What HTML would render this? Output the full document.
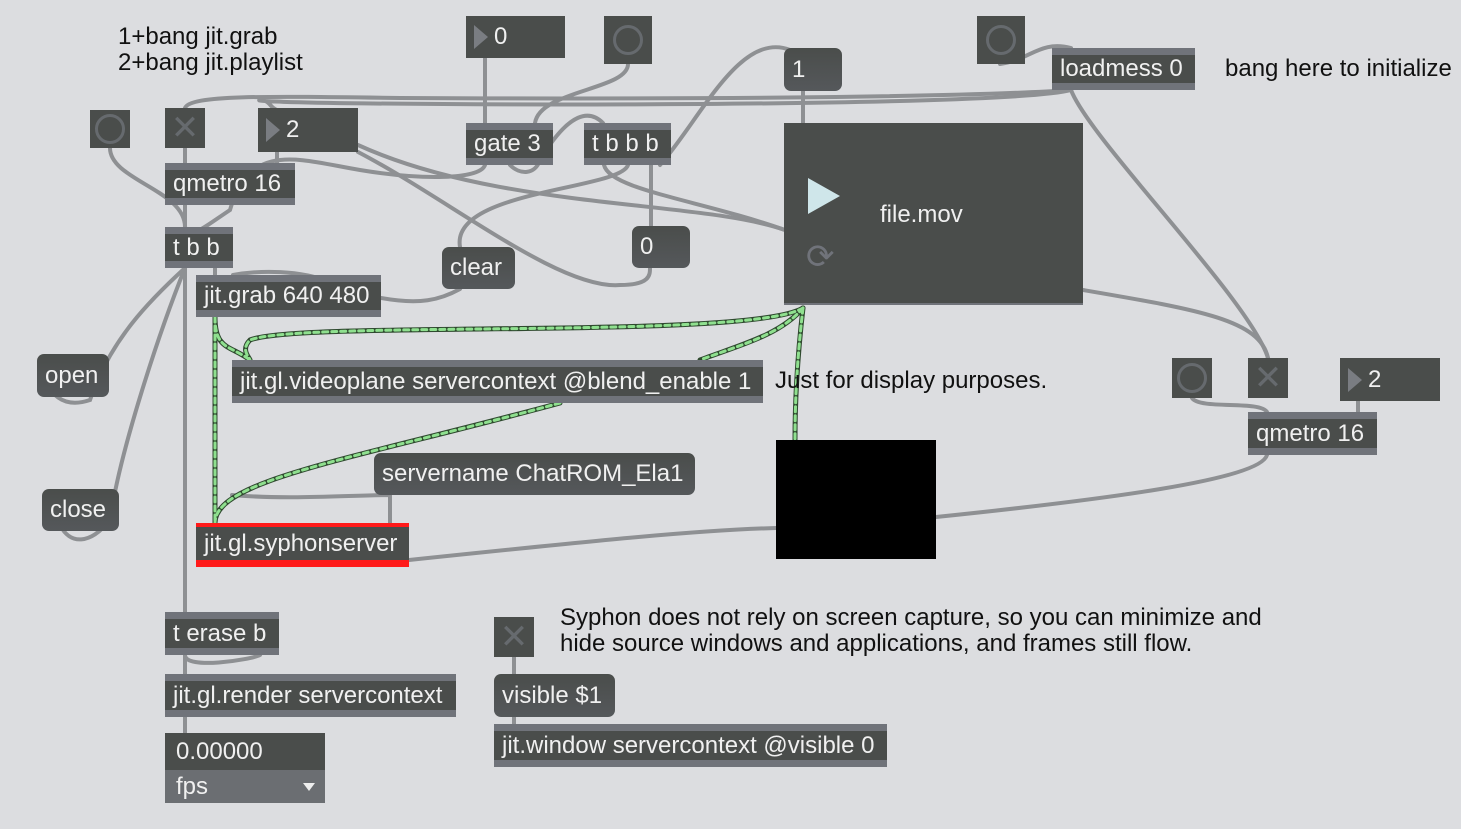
<!DOCTYPE html>
<html><head><style>
body{margin:0;width:1461px;height:829px;background:#dcdde0;position:relative;overflow:hidden;font-family:"Liberation Sans",Arial,sans-serif;}
.o{position:absolute;background:#4a4d4b;color:#f0f0f0;font-size:24px;box-sizing:border-box;}
.o .t{position:absolute;left:8px;top:50%;transform:translateY(-50%);white-space:nowrap;}
.ob{border-top:7px solid #70737a;border-bottom:7px solid #70737a;}
.m{border-radius:7px;background:linear-gradient(#4a4d4b,#55585b);}
.c{position:absolute;font-size:24px;color:#111;line-height:26px;white-space:nowrap;}
.bang::after{content:"";position:absolute;left:50%;top:50%;width:24px;height:24px;margin:-15px 0 0 -15px;border:3px solid #666a6e;border-radius:50%;}
.tog{font-size:34px;color:#666a6e;text-align:center;line-height:40px;}
.num .tri{position:absolute;left:8px;top:50%;margin-top:-12px;border-left:14px solid #7a7d82;border-top:12px solid transparent;border-bottom:12px solid transparent;}
.num .t{left:28px}
svg{position:absolute;left:0;top:0}
</style></head><body>
<svg width="1461" height="829" fill="none" stroke-linecap="round">
<g stroke="#8e9093" stroke-width="4">
<path d="M110 148 C110 180 185 190 185 227"/>
<path d="M185 148 V163"/><path d="M277 152 V163"/><path d="M185 205 V227"/>
<path d="M185 268 V612"/><path d="M215 268 V275"/>
<path d="M185 268 C150 300 110 340 90 400 C60 410 50 390 45 380"/>
<path d="M185 268 C160 330 120 450 110 520 C90 545 70 545 60 525"/>
<path d="M1071 90 C1000 95 800 100 400 98 C260 96 190 95 185 108"/>
<path d="M1071 90 C1000 110 230 105 260 100 C270 100 270 108 277 110"/>
<path d="M1071 90 C1090 140 1250 300 1268 358"/>
<path d="M1083 290 C1200 310 1260 320 1268 358"/>
<path d="M1000 64 C1030 60 1040 40 1071 48"/>
<path d="M358 145 C500 210 700 200 785 230"/>
<path d="M358 152 C450 200 560 290 620 285 C650 285 650 275 650 268"/>
<path d="M485 58 V123"/><path d="M628 64 C628 90 540 90 535 123"/>
<path d="M485 165 C480 180 420 180 360 170 C300 160 250 140 230 210 C200 230 190 240 185 227"/>
<path d="M510 165 C520 175 535 175 540 160 C570 110 590 110 603 123"/>
<path d="M628 165 C620 190 450 190 460 247"/>
<path d="M651 165 V226"/>
<path d="M604 165 C610 190 700 200 785 230"/>
<path d="M660 165 C700 120 740 30 790 50"/>
<path d="M803 91 V123"/>
<path d="M381 298 C420 305 440 300 460 289"/>
<path d="M233 275 C260 270 300 270 330 282"/>
<path d="M409 560 C600 540 700 530 776 528"/>
<path d="M936 517 C1100 500 1260 480 1267 455"/>
<path d="M1192 398 C1200 410 1260 400 1267 412"/>
<path d="M1358 401 V412"/>
<path d="M185 655 C185 670 250 660 260 655"/><path d="M185 655 V674"/>
<path d="M185 717 V733"/>
<path d="M514 657 V674"/><path d="M514 717 V724"/>
<path d="M232 495 C290 500 350 495 390 495 L390 523"/>
</g>
<g stroke="#2f4a2f" stroke-width="5">
<path d="M803 308 C750 340 300 320 250 340 C240 350 250 358 250 360"/>
<path d="M803 308 C780 335 740 345 700 360"/>
<path d="M560 403 C350 460 215 480 215 523"/>
<path d="M803 308 C797 360 795 400 795 440"/>
<path d="M215 317 C215 350 230 345 250 360"/>
<path d="M215 317 V523"/>
</g>
<g stroke="#8fe08f" stroke-width="3" stroke-dasharray="5 4">
<path d="M803 308 C750 340 300 320 250 340 C240 350 250 358 250 360"/>
<path d="M803 308 C780 335 740 345 700 360"/>
<path d="M560 403 C350 460 215 480 215 523"/>
<path d="M803 308 C797 360 795 400 795 440"/>
<path d="M215 317 C215 350 230 345 250 360"/>
<path d="M215 317 V523"/>
</g>
</svg>

<div class="c" style="left:118px;top:24px">1+bang jit.grab<br>2+bang jit.playlist</div>
<div class="c" style="left:1225px;top:56px">bang here to initialize</div>
<div class="c" style="left:775px;top:368px">Just for display purposes.</div>
<div class="c" style="left:560px;top:605px">Syphon does not rely on screen capture, so you can minimize and<br>hide source windows and applications, and frames still flow.</div>

<div class="o bang" style="left:90px;top:110px;width:40px;height:38px"></div>
<div class="o tog" style="left:165px;top:108px;width:40px;height:40px">✕</div>
<div class="o num" style="left:258px;top:108px;width:100px;height:44px"><span class="tri"></span><span class="t">2</span></div>
<div class="o ob" style="left:165px;top:163px;width:130px;height:42px"><span class="t">qmetro 16</span></div>
<div class="o ob" style="left:165px;top:227px;width:68px;height:41px"><span class="t">t b b</span></div>
<div class="o ob" style="left:196px;top:275px;width:185px;height:42px"><span class="t">jit.grab 640 480</span></div>

<div class="o num" style="left:466px;top:16px;width:99px;height:42px"><span class="tri"></span><span class="t">0</span></div>
<div class="o bang" style="left:604px;top:16px;width:48px;height:48px"></div>
<div class="o ob" style="left:466px;top:123px;width:87px;height:42px"><span class="t">gate 3</span></div>
<div class="o ob" style="left:584px;top:123px;width:87px;height:42px"><span class="t">t b b b</span></div>
<div class="o m" style="left:784px;top:48px;width:58px;height:43px"><span class="t">1</span></div>
<div class="o bang" style="left:977px;top:16px;width:48px;height:48px"></div>
<div class="o ob" style="left:1052px;top:48px;width:143px;height:42px"><span class="t">loadmess 0</span></div>
<div class="o m" style="left:442px;top:247px;width:73px;height:42px"><span class="t">clear</span></div>
<div class="o m" style="left:632px;top:226px;width:58px;height:42px"><span class="t">0</span></div>

<div class="o" style="left:784px;top:123px;width:299px;height:182px;border-bottom:2px solid #70737a">
 <div style="position:absolute;left:24px;top:55px;border-left:32px solid #cfe6ea;border-top:18px solid transparent;border-bottom:18px solid transparent"></div>
 <div style="position:absolute;left:96px;top:78px;font-size:24px">file.mov</div>
 <div style="position:absolute;left:22px;top:114px;font-size:34px;color:#70737a">⟳</div>
</div>

<div class="o m" style="left:37px;top:354px;width:72px;height:43px"><span class="t">open</span></div>
<div class="o m" style="left:42px;top:489px;width:77px;height:42px"><span class="t">close</span></div>
<div class="o ob" style="left:232px;top:360px;width:531px;height:43px"><span class="t">jit.gl.videoplane servercontext @blend_enable 1</span></div>
<div style="position:absolute;left:776px;top:440px;width:160px;height:119px;background:#000"></div>
<div class="o m" style="left:374px;top:453px;width:321px;height:42px"><span class="t">servername ChatROM_Ela1</span></div>
<div class="o ob" style="left:196px;top:523px;width:213px;height:44px;border-color:#ff1a1a;border-width:4px 0 7px 0"><span class="t">jit.gl.syphonserver</span></div>

<div class="o bang" style="left:1172px;top:358px;width:40px;height:40px"></div>
<div class="o tog" style="left:1248px;top:358px;width:40px;height:40px">✕</div>
<div class="o num" style="left:1340px;top:358px;width:100px;height:43px"><span class="tri"></span><span class="t">2</span></div>
<div class="o ob" style="left:1248px;top:412px;width:129px;height:43px"><span class="t">qmetro 16</span></div>

<div class="o ob" style="left:165px;top:612px;width:114px;height:43px"><span class="t">t erase b</span></div>
<div class="o ob" style="left:165px;top:674px;width:291px;height:43px"><span class="t">jit.gl.render servercontext</span></div>
<div class="o" style="left:165px;top:733px;width:160px;height:37px"><span class="t" style="left:11px">0.00000</span></div>
<div class="o" style="left:165px;top:770px;width:160px;height:33px;background:#6b6e72"><span class="t" style="left:11px">fps</span><span style="position:absolute;right:10px;top:13px;border-top:8px solid #eee;border-left:6px solid transparent;border-right:6px solid transparent"></span></div>

<div class="o tog" style="left:494px;top:617px;width:40px;height:40px">✕</div>
<div class="o m" style="left:494px;top:674px;width:121px;height:43px"><span class="t">visible $1</span></div>
<div class="o ob" style="left:494px;top:724px;width:393px;height:43px"><span class="t">jit.window servercontext @visible 0</span></div>
</body></html>
